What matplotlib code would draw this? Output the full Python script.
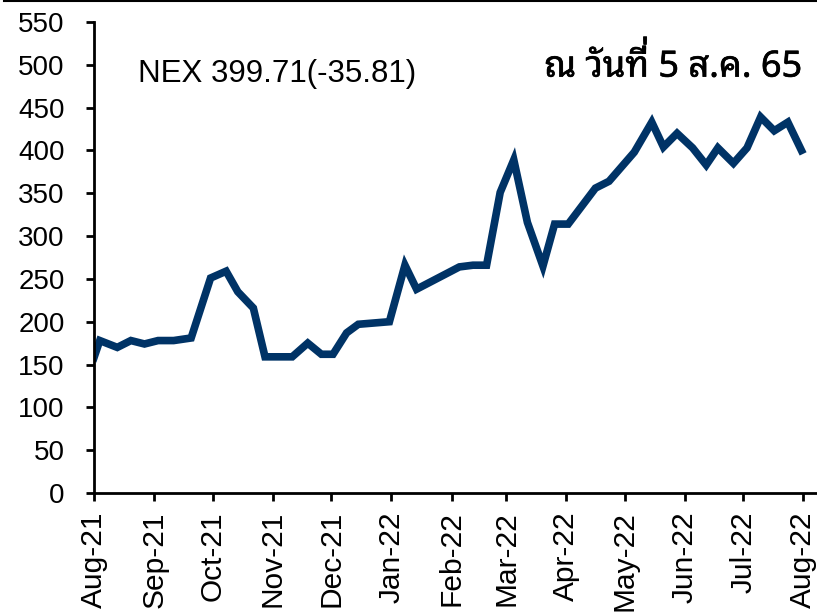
import datetime as dt
import matplotlib
matplotlib.use("Agg")
import matplotlib.pyplot as plt
import matplotlib.dates as mdates
import matplotlib.patheffects as pe
from matplotlib.lines import Line2D

# NEX index, weekly-ish closes
dates = ["2021-08-06", "2021-08-09", "2021-08-18", "2021-08-25", "2021-09-01",
         "2021-09-08", "2021-09-16", "2021-09-25", "2021-10-05", "2021-10-13",
         "2021-10-19", "2021-10-27", "2021-11-02", "2021-11-16", "2021-11-24",
         "2021-12-01", "2021-12-07", "2021-12-14", "2021-12-20", "2022-01-05",
         "2022-01-13", "2022-01-19", "2022-02-10", "2022-02-17", "2022-02-24",
         "2022-03-03", "2022-03-10", "2022-03-17", "2022-03-25", "2022-03-31",
         "2022-04-07", "2022-04-21", "2022-04-28", "2022-05-11", "2022-05-20",
         "2022-05-26", "2022-06-02", "2022-06-10", "2022-06-17", "2022-06-23",
         "2022-07-01", "2022-07-08", "2022-07-15", "2022-07-22", "2022-07-29",
         "2022-08-05"]
nex = [158, 178, 170, 178, 174,
       178, 178, 181, 251, 259,
       235, 216, 159, 159, 175,
       162, 162, 187, 197, 200,
       266, 238, 264, 266, 266,
       351, 389, 316, 265, 314,
       314, 356, 364, 398, 433,
       404, 420, 403, 383, 403,
       385, 403, 439, 423, 433,
       400]
label_nex = "NEX 399.71(-35.81)"
label_date = "ณ วันที่ 5 ส.ค. 65"

x = [dt.datetime.strptime(d, "%Y-%m-%d") for d in dates]

plt.rcParams["font.family"] = ["Liberation Sans", "DejaVu Sans"]
thai_font = ["Noto Sans Thai Looped", "Noto Sans Thai", "DejaVu Sans"]
thai_fx = [pe.withStroke(linewidth=0.45, foreground="black")]

fig = plt.figure(figsize=(8.17, 6.16), dpi=100)
ax = fig.add_axes([0.115, 0.1997, 0.885, 0.7646])
ax.plot(x, nex, color="#003366", lw=5.5, solid_joinstyle="miter")

ax.set_ylim(0, 550)
ax.set_yticks(range(0, 551, 50))
ax.set_xlim(dt.datetime(2021, 8, 6), dt.datetime(2022, 8, 13))
# month ticks (Excel-style, same day of month as the first point)
ticks = [dt.datetime(2021 + (7 + m) // 12, (7 + m) % 12 + 1, 6) for m in range(13)]
ax.set_xticks(ticks)
ax.xaxis.set_major_formatter(mdates.DateFormatter("%b-%y"))
ax.tick_params(axis="x", labelrotation=90, labelsize=21.5, length=6, width=2, pad=7)
ax.tick_params(axis="y", labelsize=20, length=6, width=2, pad=15)
for s in ["top", "right"]:
    ax.spines[s].set_visible(False)
for s in ["left", "bottom"]:
    ax.spines[s].set_linewidth(2)

ax.text(0.061, 0.889, label_nex, transform=ax.transAxes, fontsize=22.5, va="center")
t_date = ax.text(0.98, 0.884, label_date, transform=ax.transAxes, fontsize=26,
                 va="baseline", ha="right", family=thai_font, path_effects=thai_fx)

# matplotlib has no Thai shaping, so the tone mark lands on the vowel;
# draw it again lifted above the vowel like in the reference
fig.canvas.draw()
rend = fig.canvas.get_renderer()
bb = t_date.get_window_extent(rend)
base_y = ax.transAxes.transform((0, 0.884))[1]
i_mark = label_date.index("\u0e48")
probe = fig.text(0, 0, label_date[:i_mark], fontsize=26, family=thai_font, transform=None)
pb = probe.get_window_extent(rend)
probe.remove()
mx = bb.x0 + pb.width + 1
fx, fy = fig.transFigure.inverted().transform((mx, base_y + 9))
fig.text(fx, fy, " \u0e48", fontsize=26, family=thai_font, ha="right",
         va="baseline", path_effects=thai_fx)

# thin frame line along the top of the image
fig.add_artist(Line2D([0.005, 1], [0.999, 0.999], color="black", lw=1.5))

fig.savefig("out.png", dpi=100)
